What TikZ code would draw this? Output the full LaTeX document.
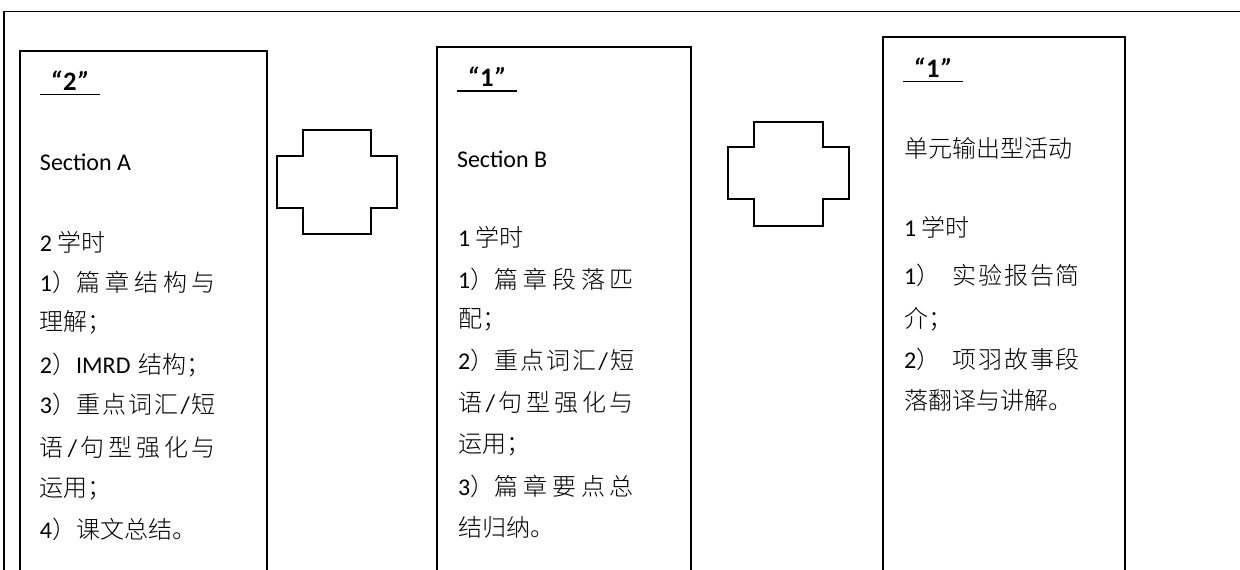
\documentclass[tikz,border=0pt]{standalone}
\usepackage{fontspec}
\setmainfont{Carlito}
\newfontfamily\cjk{Noto Sans CJK SC Light}
\newcommand\jline[1]{\hbox to 132pt{#1}}
\newcommand\gp{\hfil}
\newcommand\hq[1]{{\itshape “}\kern1.2pt #1\kern1.2pt{\itshape ”}}
\tikzset{
  x=0.75pt,y=-0.75pt,
  frameline/.style={draw=black,line width=1pt},
  boxline/.style={draw=black,line width=1.35pt},
  crossline/.style={draw=black,line width=1.25pt},
  txt/.style={anchor=base west,inner sep=0pt,outer sep=0pt,font=\fontsize{18pt}{22pt}\selectfont},
  head/.style={anchor=base,inner sep=0pt,outer sep=0pt,font=\fontsize{20pt}{22pt}\selectfont\bfseries},
  headline/.style={draw=black,line width=0.9pt}
}
\begin{document}
\begin{tikzpicture}
\useasboundingbox (0,0) rectangle (1240,570);
\fill[white] (0,0) rectangle (1240,570);
\begin{scope}
\clip (0,0) rectangle (1240,570);
\draw[frameline] (4,600) -- (4,11.5) -- (1245,11.5);
% boxes
\draw[boxline] (20,600) -- (20,50.7) -- (267.3,50.7) -- (267.3,600);
\draw[boxline] (436.7,600) -- (436.7,46.7) -- (691,46.7) -- (691,600);
\draw[boxline] (882.7,600) -- (882.7,37) -- (1125,37) -- (1125,600);
% crosses
\draw[crossline] (303,130) -- (371.3,130) -- (371.3,156) -- (397.3,156) -- (397.3,208.3) -- (371.3,208.3) -- (371.3,234.3) -- (303,234.3) -- (303,208.3) -- (276.7,208.3) -- (276.7,156) -- (303,156) -- cycle;
\draw[crossline] (754.3,121.7) -- (822.7,121.7) -- (822.7,147.3) -- (849,147.3) -- (849,199.3) -- (822.7,199.3) -- (822.7,225.7) -- (754.3,225.7) -- (754.3,199.3) -- (728,199.3) -- (728,147.3) -- (754.3,147.3) -- cycle;
% box 1
\node[head] (a0) at (70,91) {\hq{2}};
\draw[headline] (40,94.3) -- (100,94.3);
\node[txt] (a1) at (40,171) {Section A};
\node[txt] (a2) at (40,251.5) {2 {\cjk 学时}};
\node[txt] (a3) at (40,291.5) {\jline{1{\cjk ）篇\gp 章\gp 结\gp 构\gp 与}}};
\node[txt] (a4) at (40,331) {\cjk 理解；};
\node[txt] (a5) at (40,374) {2{\cjk ）}IMRD\kern2pt{} {\cjk 结构；}};
\node[txt] (a6) at (40,414) {\jline{3{\cjk ）重\gp 点\gp 词\gp 汇\gp}/\hfil{\cjk 短}}};
\node[txt] (a7) at (40,456) {\jline{{\cjk 语}\hfil/\hfil{\cjk 句\gp 型\gp 强\gp 化\gp 与}}};
\node[txt] (a8) at (40,497) {\cjk 运用；};
\node[txt] (a9) at (40,538) {4{\cjk ）课文总结。}};
% box 2
\node[head] (b0) at (487,87) {\hq{1}};
\draw[headline] (457,91) -- (517,91);
\node[txt] (b1) at (457,167.5) {Section B};
\node[txt] (b2) at (458,247) {1 {\cjk 学时}};
\node[txt] (b3) at (458,289) {\jline{1{\cjk ）篇\gp 章\gp 段\gp 落\gp 匹}}};
\node[txt] (b4) at (458,328) {\cjk 配；};
\node[txt] (b5) at (458,370) {\jline{2{\cjk ）重\gp 点\gp 词\gp 汇\gp}/\hfil{\cjk 短}}};
\node[txt] (b6) at (458,412) {\jline{{\cjk 语}\hfil/\hfil{\cjk 句\gp 型\gp 强\gp 化\gp 与}}};
\node[txt] (b7) at (458,453) {\cjk 运用；};
\node[txt] (b8) at (458,495) {\jline{3{\cjk ）篇\gp 章\gp 要\gp 点\gp 总}}};
\node[txt] (b9) at (458,537) {\cjk 结归纳。};
% box 3
\node[head] (c0) at (933,78) {\hq{1}};
\draw[headline] (903,81.3) -- (963,81.3);
\node[txt] (c1) at (904,158) {\cjk 单元输出型活动};
\node[txt] (c2) at (904,237) {1 {\cjk 学时}};
\node[txt] (c3) at (904,285) {\jline{1{\cjk ）\hskip 9.5pt 实\gp 验\gp 报\gp 告\gp 简}}};
\node[txt] (c4) at (904,328) {\cjk 介；};
\node[txt] (c5) at (904,369) {\jline{2{\cjk ）\hskip 9.5pt 项\gp 羽\gp 故\gp 事\gp 段}}};
\node[txt] (c6) at (904,410) {\cjk 落翻译与讲解。};
\end{scope}
\end{tikzpicture}
\end{document}
